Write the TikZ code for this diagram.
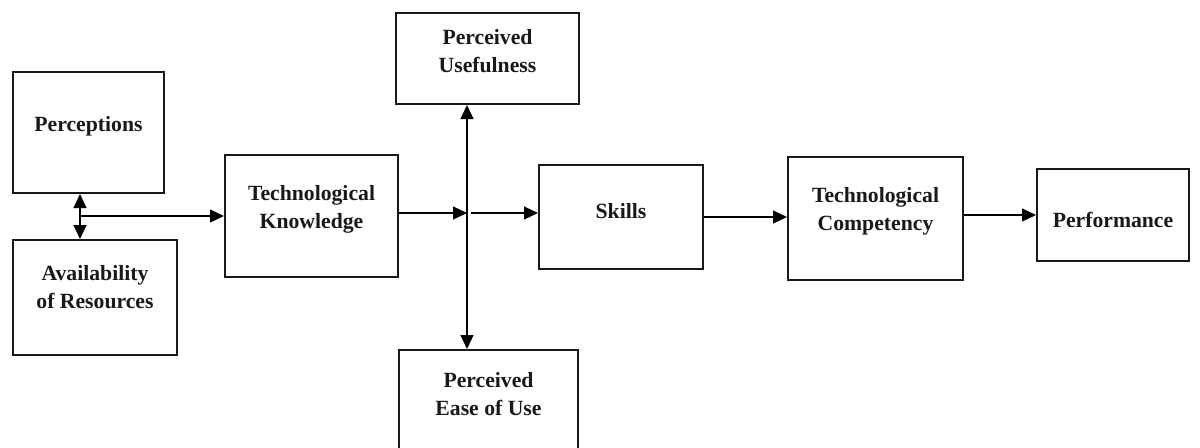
\documentclass[tikz,border=0pt]{standalone}
\usepackage{fontspec}
\setmainfont{Liberation Serif}
\usetikzlibrary{arrows.meta}
\begin{document}
\begin{tikzpicture}[x=0.5pt,y=-0.5pt,
  box/.style={draw=black!90, line width=1pt, inner sep=0pt},
  txt/.style={font=\fontsize{10.85}{14}\selectfont\bfseries, align=center, text=black!90},
  tip/.tip={Triangle[length=7pt,width=6.5pt]},
  conn/.style={draw=black, line width=0.55pt, -tip},
  dconn/.style={draw=black, line width=0.55pt, tip-tip}]
\clip (0,0) rectangle (1200,447);
\fill[white] (0,0) rectangle (1200,447);
% boxes
\node[box, minimum width=75.5pt, minimum height=60.5pt,
  label={[txt,yshift=3pt]center:Perceptions}] (per) at (88.5,132.5) {};
\node[box, minimum width=82pt, minimum height=57.5pt,
  label={[txt,yshift=5.25pt]center:Availability\\of Resources}] (av) at (95,297.5) {};
\node[box, minimum width=86.5pt, minimum height=61pt,
  label={[txt,yshift=3.5pt]center:Technological\\Knowledge}] (tk) at (311.5,216) {};
\node[box, minimum width=91.5pt, minimum height=45.5pt,
  label={[txt,yshift=3.5pt]center:Perceived\\Usefulness}] (pu) at (487.5,58.5) {};
\node[box, minimum width=89.5pt, minimum height=55pt,
  label={[txt,yshift=5.25pt]center:Perceived\\Ease of Use}] (pe) at (488.5,405) {};
\node[box, minimum width=82pt, minimum height=52pt,
  label={[txt,yshift=3pt]center:Skills}] (sk) at (621,217) {};
\node[box, minimum width=87.5pt, minimum height=61.5pt,
  label={[txt,yshift=3.5pt]center:Technological\\Competency}] (tc) at (875.5,218.5) {};
\node[box, minimum width=76pt, minimum height=46pt,
  label={[txt,yshift=-2.5pt]center:Performance}] (pf) at (1113,215) {};
% junctions
\coordinate (j1) at (80,216);
\coordinate (j2) at (467,213);
\coordinate (j3) at (471,213);
% connectors
\draw[dconn] (j1 |- per.south) -- (j1 |- av.north);
\draw[conn] (j1) -- (j1 -| tk.west);
\draw[conn] (tk.east |- j2) -- (j2);
\draw[conn] (j3) -- (j3 -| sk.west);
\draw[dconn] (j2 |- pu.south) -- (j2 |- pe.north);
\draw[conn] (sk.east) -- (sk.east -| tc.west);
\draw[conn] (tc.east |- pf.west) -- (pf.west);
\end{tikzpicture}
\end{document}
